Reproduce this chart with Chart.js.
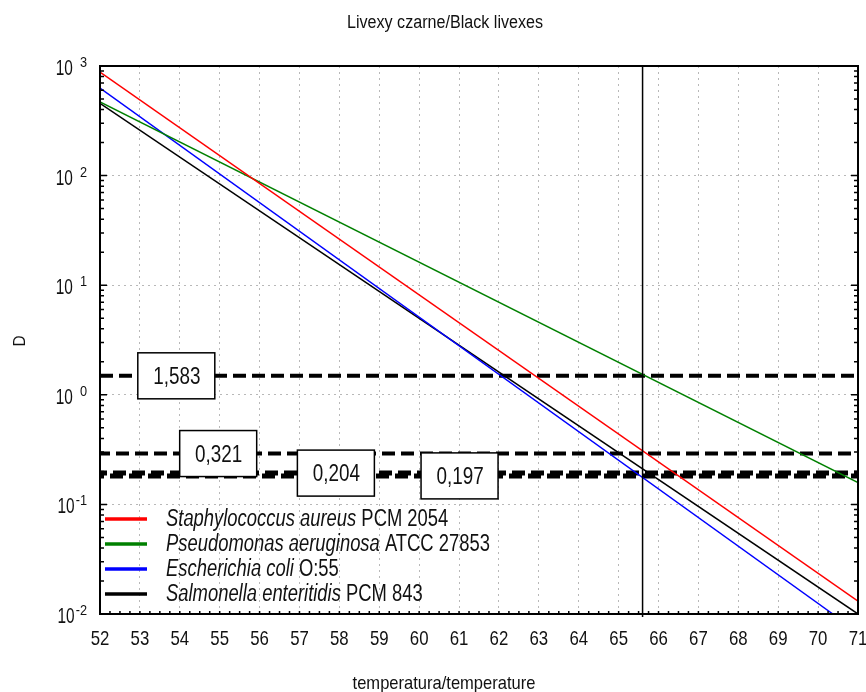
<!DOCTYPE html>
<html>
<head>
<meta charset="utf-8">
<script src="https://cdn.jsdelivr.net/npm/chart.js@4.4.1/dist/chart.umd.min.js"></script>
<style>
  html, body { margin: 0; padding: 0; background: #fff; }
  #wrap { width: 866px; height: 692px; position: relative; }
</style>
</head>
<body>
<div id="wrap"><canvas id="chart"></canvas></div>
<script>
const FONT = '"Liberation Sans", Arial, sans-serif';

// series: D value at the ends of each straight (log) line
const seriesItalic = ['Staphylococcus aureus', 'Pseudomonas aeruginosa', 'Escherichia coli', 'Salmonella enteritidis'];
const seriesStrain = ['PCM 2054', 'ATCC 27853', 'O:55', 'PCM 843'];
const seriesColors = ['#ff0000', '#008000', '#0000ff', '#000000'];
const staphT = [52, 71],    staphD = [880, 0.0131];
const pseudoT = [52, 71],   pseudoD = [470, 0.158];
const ecoliT = [52, 70.37], ecoliD = [630, 0.01];
const salmT = [52, 71],     salmD = [457, 0.01];

// reference lines
const cutTemp = 65.6;
const cutD = [0.0094, 1000];
const refD = [1.49, 0.291, 0.193, 0.182];
const refText = ['1,583', '0,321', '0,204', '0,197'];
const refLabelTemp = [53.9, 54.95, 57.9, 61.0];

const xMin = 52, xMax = 71;
const xTicks = [52, 53, 54, 55, 56, 57, 58, 59, 60, 61, 62, 63, 64, 65, 66, 67, 68, 69, 70, 71];
const yTicks = [0.01, 0.1, 1, 10, 100, 1000];
const yExp = ['-2', '-1', '0', '1', '2', '3'];

function pts(t, d) {
  return t.map((v, i) => ({ x: v, y: d[i] }));
}

// condensed text (the original uses a narrow face)
function txt(ctx, s, x, y, size, sx, align, italic) {
  ctx.save();
  ctx.font = (italic ? 'italic ' : '') + size + 'px ' + FONT;
  ctx.textAlign = align || 'left';
  ctx.textBaseline = 'alphabetic';
  ctx.translate(x, y);
  ctx.scale(sx, 1);
  ctx.fillText(s, 0, 0);
  const w = ctx.measureText(s).width * sx;
  ctx.restore();
  return w;
}

const seriesData = [pts(staphT, staphD), pts(pseudoT, pseudoD), pts(ecoliT, ecoliD), pts(salmT, salmD)];

const datasets = [];
seriesData.forEach((data, i) => {
  datasets.push({
    label: seriesItalic[i] + ' ' + seriesStrain[i],
    data,
    borderColor: seriesColors[i],
    borderWidth: 1.5,
    pointRadius: 0,
    order: 1,
  });
});
refD.forEach((v, i) => {
  datasets.push({
    label: refText[i],
    data: [{ x: xMin, y: v }, { x: xMax, y: v }],
    borderColor: '#000',
    borderWidth: i < 2 ? 4 : 5,
    borderDash: [13, 6],
    borderDashOffset: i * 3,
    pointRadius: 0,
    order: 2,
  });
});
datasets.push({
  label: 'cut',
  data: [{ x: cutTemp, y: cutD[0] }, { x: cutTemp, y: cutD[1] }],
  borderColor: '#000',
  borderWidth: 1.5,
  pointRadius: 0,
  clip: false,
  order: 0,
});

const decor = {
  id: 'decor',
  afterDatasetsDraw(chart) {
    const { ctx, chartArea: a, scales: { x, y } } = chart;
    ctx.save();

    // frame and inside ticks
    ctx.strokeStyle = '#000';
    ctx.lineWidth = 2;
    ctx.strokeRect(a.left, a.top, a.right - a.left, a.bottom - a.top);
    ctx.lineWidth = 1.5;
    ctx.beginPath();
    yTicks.forEach((v, i) => {
      let py = y.getPixelForValue(v);
      ctx.moveTo(a.left, py); ctx.lineTo(a.left + 7, py);
      ctx.moveTo(a.right, py); ctx.lineTo(a.right - 7, py);
      if (i < yTicks.length - 1) {
        for (let k = 2; k < 10; k++) {
          py = y.getPixelForValue(v * k);
          ctx.moveTo(a.left, py); ctx.lineTo(a.left + 4, py);
          ctx.moveTo(a.right, py); ctx.lineTo(a.right - 4, py);
        }
      }
    });
    for (let t = xMin; t <= xMax; t += 0.25) {
      const px = x.getPixelForValue(t);
      ctx.moveTo(px, a.bottom); ctx.lineTo(px, a.bottom - 3);
    }
    ctx.stroke();

    // value boxes
    refD.forEach((v, i) => {
      const cx = x.getPixelForValue(refLabelTemp[i]);
      const cy = y.getPixelForValue(v);
      ctx.fillStyle = '#fff';
      ctx.fillRect(cx - 38, cy - 23, 77, 46);
      ctx.strokeStyle = '#000';
      ctx.lineWidth = 1.5;
      ctx.strokeRect(cx - 38, cy - 23, 77, 46);
      ctx.fillStyle = '#111';
      txt(ctx, refText[i], cx + 1, cy + 8, 23, 0.82, 'center');
    });

    // legend
    seriesItalic.forEach((name, i) => {
      const ly = 519 + i * 25;
      ctx.strokeStyle = seriesColors[i];
      ctx.lineWidth = 3.5;
      ctx.beginPath();
      ctx.moveTo(105, ly); ctx.lineTo(147, ly);
      ctx.stroke();
      ctx.fillStyle = '#111';
      const w = txt(ctx, name, 166, ly + 7, 23, 0.8, 'left', true);
      txt(ctx, ' ' + seriesStrain[i], 166 + w, ly + 7, 23, 0.8, 'left', false);
    });

    // x tick labels
    ctx.fillStyle = '#111';
    xTicks.forEach(t => {
      txt(ctx, String(t), x.getPixelForValue(t), 645, 21, 0.8, 'center');
    });

    // y tick labels 10^n
    yTicks.forEach((v, i) => {
      const py = y.getPixelForValue(v);
      const neg = yExp[i].startsWith('-');
      const ew = txt(ctx, yExp[i], 87, py + 1, 15, 0.85, 'right');
      txt(ctx, '10', 87 - ew - (neg ? 1 : 7), py + 9, 22, 0.7, 'right');
    });

    // titles
    txt(ctx, 'Livexy czarne/Black livexes', 445, 28, 18, 0.895, 'center');
    txt(ctx, 'temperatura/temperature', 444, 689, 19, 0.87, 'center');
    ctx.translate(19, 341);
    ctx.rotate(-Math.PI / 2);
    txt(ctx, 'D', 0, 6, 17, 0.9, 'center');
    ctx.restore();
  }
};

new Chart(document.getElementById('chart'), {
  type: 'line',
  data: { datasets },
  plugins: [decor],
  options: {
    responsive: true,
    maintainAspectRatio: false,
    animation: false,
    layout: { padding: { top: 66, right: 8, left: 0, bottom: 0 } },
    plugins: {
      legend: { display: false },
      title: { display: false },
      tooltip: { enabled: false },
    },
    scales: {
      x: {
        type: 'linear',
        min: xMin,
        max: xMax,
        afterFit: s => { s.height = 78; },
        afterBuildTicks: s => { s.ticks = xTicks.map(v => ({ value: v })); },
        ticks: { display: false },
        grid: { color: '#b8b8b8', lineWidth: 1, drawTicks: false },
        border: { display: false, dash: [2, 4] },
      },
      y: {
        type: 'logarithmic',
        min: 0.01,
        max: 1000,
        afterFit: s => { s.width = 100; },
        afterBuildTicks: s => { s.ticks = yTicks.map(v => ({ value: v, major: true })); },
        ticks: { display: false },
        grid: { color: '#b8b8b8', lineWidth: 1, drawTicks: false },
        border: { display: false, dash: [2, 4] },
      },
    },
  },
});
</script>
</body>
</html>
